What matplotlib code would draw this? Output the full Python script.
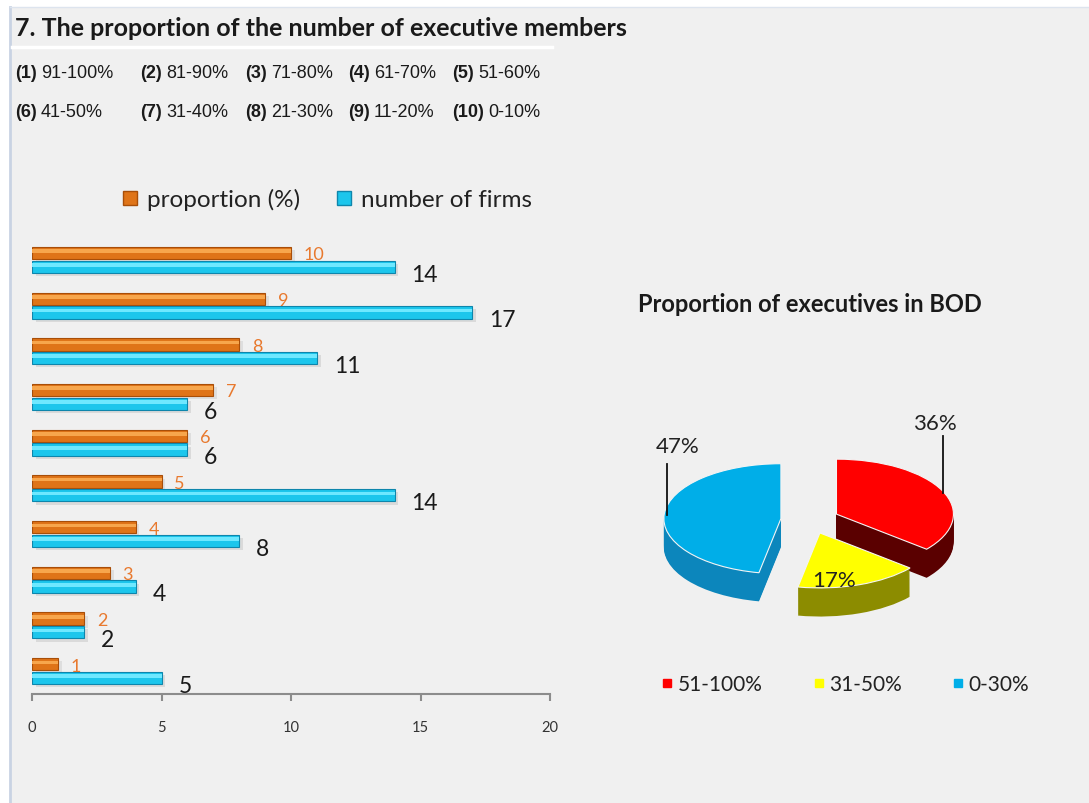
import numpy as np
import matplotlib
matplotlib.use('Agg')
import matplotlib.pyplot as plt
from matplotlib.lines import Line2D
from matplotlib.patches import Rectangle
from matplotlib.text import Annotation

plt.rcParams['font.family'] = ['Lato', 'DejaVu Sans']

# data
codes = ['(1)', '(2)', '(3)', '(4)', '(5)', '(6)', '(7)', '(8)', '(9)', '(10)']
ranges = ['91-100%', '81-90%', '71-80%', '61-70%', '51-60%',
          '41-50%', '31-40%', '21-30%', '11-20%', '0-10%']
# bars listed bottom -> top
proportion = [1, 2, 3, 4, 5, 6, 7, 8, 9, 10]
firms = [5, 2, 4, 8, 14, 6, 6, 11, 17, 14]
xticks = [0, 5, 10, 15, 20]

pie_labels = ['51-100%', '31-50%', '0-30%']
pie_values = [36, 17, 47]
pie_colors = ['#ff0000', '#ffff00', '#00aee8']
pie_sides = ['#5a0000', '#8c8c00', '#0c86bc']

W, H = 1089, 804
fig = plt.figure(figsize=(W / 100, H / 100), dpi=100)
fig.patch.set_facecolor('white')
# grey panel with a thin left border
fig.patches.append(Rectangle((10 / W, 0), 1, 1 - 8 / H, transform=fig.transFigure,
                             facecolor='#f0f0f0', edgecolor='none', zorder=-5))
fig.add_artist(Line2D([10 / W, 10 / W], [0, 1 - 8 / H], transform=fig.transFigure,
                      color='#c9d3e3', lw=2, zorder=-4))
fig.add_artist(Line2D([10 / W, 1], [1 - 8 / H, 1 - 8 / H], transform=fig.transFigure,
                      color='#dde4ee', lw=1, zorder=-4))
fig.add_artist(Line2D([12 / W, 552 / W], [1 - 48 / H, 1 - 48 / H], transform=fig.transFigure,
                      color='white', lw=2.5, zorder=-4))

fig.text(15 / W, 1 - 28 / H, '7. The proportion of the number of executive members',
         fontsize=18, weight='bold', color='#1a1a1a', va='center')

# category key
col_x = [15, 140, 245, 348, 452]
row_y = [1 - 78 / H, 1 - 117 / H]
for i in range(len(codes)):
    t = fig.text(col_x[i % 5] / W, row_y[i // 5], codes[i], family='Liberation Sans',
                 fontsize=13, weight='bold', color='#1a1a1a', va='baseline')
    fig.add_artist(Annotation(ranges[i], xy=(1, row_y[i // 5]), xycoords=(t, 'figure fraction'),
                              xytext=(3, 0), textcoords='offset points', family='Liberation Sans',
                              fontsize=13, color='#1a1a1a', va='baseline'))

# ---- bar chart ----
ax = fig.add_axes([32 / W, 1 - 695 / H, 518 / W, 457 / H])
ax.set_facecolor('none')
y = np.arange(len(proportion))
off = 0.15
bh = 0.27

# soft shadow
ax.barh(y - off - 0.07, firms, height=bh, left=0.15, color='#9a9a9a', alpha=0.25, zorder=1)
ax.barh(y + off - 0.07, proportion, height=bh, left=0.15, color='#9a9a9a', alpha=0.2, zorder=1)

ax.barh(y + off, proportion, height=bh, color='#df7418', edgecolor='#a84e08', lw=0.8, zorder=2)
ax.barh(y + off + 0.04, proportion, height=0.08, color='#f7a64c', zorder=3)
ax.barh(y - off, firms, height=bh, color='#1cc6ec', edgecolor='#0e86ac', lw=0.8, zorder=2)
ax.barh(y - off + 0.04, firms, height=0.08, color='#6ee8ff', zorder=3)

for yi, p, f in zip(y, proportion, firms):
    ax.text(p + 0.5, yi + 0.12, str(p), color='#e8792e', fontsize=13, va='center', zorder=4)
    ax.text(f + 0.65, yi - 0.31, str(f), color='#1a1a1a', fontsize=16.5, va='center', zorder=4)

ax.set_xlim(0, 20)
ax.set_ylim(-0.5, 9.5)
ax.set_xticks(xticks)
ax.set_yticks([])
for s in ['top', 'right', 'left']:
    ax.spines[s].set_visible(False)
ax.spines['bottom'].set_color('#8c8c8c')
ax.spines['bottom'].set_linewidth(1.5)
ax.tick_params(axis='x', direction='out', length=5, width=1.5, color='#8c8c8c',
               pad=14, labelsize=10.5, labelcolor='#333333')

handles = [Line2D([], [], marker='s', ls='none', markersize=10, markerfacecolor='#df7418',
                  markeredgecolor='#a84e08'),
           Line2D([], [], marker='s', ls='none', markersize=10, markerfacecolor='#1cc6ec',
                  markeredgecolor='#0e86ac')]
fig.legend(handles, ['proportion (%)', 'number of firms'], loc='center',
           bbox_to_anchor=(326 / W, 1 - 200 / H), ncol=2, frameon=False, fontsize=17.5,
           handletextpad=0.3, columnspacing=1.4, handlelength=0.8, labelcolor='#222222')

# ---- pie chart ----
cx, cy = 810, 521
rx, ry = 117, 55
depth = 0.52
pl, pr, pt, pb = 620, 1000, 380, 660
pax = fig.add_axes([pl / W, 1 - pb / H, (pr - pl) / W, (pb - pt) / H])
pax.set_facecolor('none')
explode = [0.25, 0.25, 0.25]
for d in np.linspace(-depth, -0.02, 28):
    pax.pie(pie_values, colors=pie_sides, startangle=90, counterclock=False,
            explode=explode, center=(0, d), wedgeprops=dict(linewidth=0))
pax.pie(pie_values, colors=pie_colors, startangle=90, counterclock=False,
        explode=explode, center=(0, 0), wedgeprops=dict(linewidth=0.8, edgecolor='#f4f4f4'))
pax.set_aspect('auto')
pax.set_xlim((pl - cx) / rx, (pr - cx) / rx)
pax.set_ylim((cy - pb) / ry, (cy - pt) / ry)
pax.axis('off')

lab_pos = [(1.07, 1.77), (0.21, -1.09), (-1.13, 1.35)]
for v, (lx, ly) in zip(pie_values, lab_pos):
    pax.text(lx, ly, f'{v}%', fontsize=16, color='#222222', ha='center', va='center', zorder=5)
pax.plot([1.137, 1.137], [1.53, 0.5], color='#111111', lw=1.3, zorder=5)
pax.plot([-1.222, -1.222], [1.02, 0.1], color='#111111', lw=1.3, zorder=5)

fig.text(810 / W, 1 - 304 / H, 'Proportion of executives in BOD', fontsize=17,
         weight='bold', color='#1a1a1a', ha='center', va='center')

ph = [Line2D([], [], marker='s', ls='none', markersize=6, markerfacecolor=c,
             markeredgecolor=c) for c in pie_colors]
fig.legend(ph, pie_labels, loc='center', bbox_to_anchor=(845 / W, 1 - 685 / H), ncol=3,
           frameon=False, fontsize=15, handletextpad=0.2, columnspacing=2.4,
           handlelength=0.6, labelcolor='#222222')

fig.savefig('out.png', dpi=100, facecolor=fig.get_facecolor())
